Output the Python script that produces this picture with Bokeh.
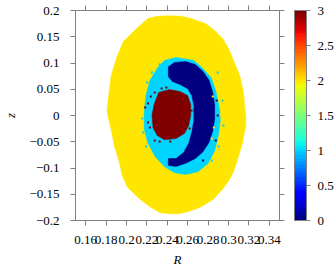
from bokeh.plotting import figure
from bokeh.models import (ColumnDataSource, LinearColorMapper, ColorBar, FixedTicker,
                          LinearAxis, CustomJSTickFormatter, Range1d)
from bokeh.embed import file_html
from bokeh.resources import INLINE

# ---- data: region boundaries (R, z), with their state value ----
yellow_R = [0.242, 0.254, 0.263, 0.278, 0.2865, 0.294, 0.300, 0.304, 0.308, 0.311, 0.314, 0.315,
            0.316, 0.317, 0.317, 0.316, 0.314, 0.313, 0.310, 0.308, 0.3045, 0.301, 0.294, 0.285,
            0.272, 0.261, 0.251, 0.242, 0.233, 0.224, 0.2135, 0.201, 0.196, 0.193, 0.188, 0.185,
            0.181, 0.181, 0.183, 0.185, 0.190, 0.197, 0.210, 0.221, 0.230]
yellow_z = [0.190, 0.189, 0.185, 0.175, 0.162, 0.147, 0.128, 0.109, 0.090, 0.076, 0.051, 0.038,
            0.013, 0.0, -0.019, -0.029, -0.048, -0.057, -0.076, -0.090, -0.109, -0.122, -0.141, -0.160,
            -0.175, -0.183, -0.187, -0.187, -0.185, -0.175, -0.160, -0.137, -0.115, -0.090, -0.057, -0.027,
            0.006, 0.013, 0.046, 0.076, 0.109, 0.141, 0.166, 0.185, 0.189]

cyan_R = [0.237, 0.2486, 0.266, 0.275, 0.283, 0.2875, 0.291, 0.292, 0.290, 0.2865, 0.280, 0.270,
          0.258, 0.247, 0.237, 0.228, 0.221, 0.2173, 0.2173, 0.219, 0.223, 0.230]
cyan_z = [0.105, 0.1105, 0.105, 0.0895, 0.072, 0.0476, 0.015, -0.0095, -0.038, -0.067, -0.0914, -0.107,
          -0.1124, -0.109, -0.097, -0.078, -0.053, -0.025, 0.0057, 0.038, 0.067, 0.0895]

navy_R = [0.241, 0.247, 0.258, 0.2675, 0.275, 0.281, 0.2846, 0.2865, 0.2865, 0.2846, 0.281, 0.275,
          0.2675, 0.258, 0.2486, 0.241,
          0.241, 0.2486, 0.256, 0.261, 0.264, 0.266, 0.266, 0.264, 0.260, 0.2524, 0.245, 0.241]
navy_z = [0.093, 0.101, 0.103, 0.097, 0.084, 0.067, 0.044, 0.019, -0.006, -0.029, -0.051, -0.069,
          -0.082, -0.091, -0.097, -0.095,
          -0.082, -0.082, -0.0705, -0.053, -0.032, -0.0095, 0.019, 0.038, 0.051, 0.059, 0.065, 0.074]

red_R = [0.2315, 0.242, 0.2524, 0.260, 0.263, 0.263, 0.261, 0.257, 0.2486, 0.237, 0.230, 0.226,
         0.225, 0.227]
red_z = [0.044, 0.0495, 0.0457, 0.038, 0.021, 0.0, -0.019, -0.034, -0.044, -0.046, -0.038, -0.023,
         0.0, 0.021]

region_values = [2, 1, 0, 3]

# isolated cells (speckles) near the region borders
speck_R = [0.2183, 0.2211, 0.2239, 0.2277, 0.2344, 0.2391, 0.2230, 0.2211, 0.2277, 0.2325, 0.2429,
           0.2638, 0.2619,
           0.2202, 0.2249, 0.2154, 0.2164, 0.2192, 0.2325, 0.2894, 0.2941, 0.2950, 0.2903, 0.2837,
           0.2884, 0.2894, 0.2875, 0.2751,
           0.2846, 0.2856, 0.2837]
speck_z = [0.0152, 0.0229, 0.0362, 0.0438, 0.0514, 0.0533, -0.0229, -0.0133, -0.0476, -0.0495, -0.0495,
           0.0095, -0.0248,
           0.0629, 0.0819, -0.0057, -0.0324, -0.0590, 0.0971, 0.0819, 0.0286, -0.0190, -0.0590, -0.0857,
           0.0286, 0.0, -0.0476, -0.0857,
           0.0362, -0.0229, -0.0438]
speck_value = [3, 3, 3, 3, 3, 3, 3, 3, 3, 3, 3,
               3, 3,
               1, 1, 1, 1, 1, 1, 1, 1, 1, 1, 1,
               0, 0, 0, 0,
               2, 2, 2]
cell_dR, cell_dz = 0.002, 0.004

x_ticks = [0.16, 0.18, 0.20, 0.22, 0.24, 0.26, 0.28, 0.30, 0.32, 0.34]
x_labels = ["0.16", "0.18", "0.2", "0.22", "0.24", "0.26", "0.28", "0.3", "0.32", "0.34"]
y_ticks = [-0.2, -0.15, -0.1, -0.05, 0.0, 0.05, 0.1, 0.15, 0.2]
y_labels = ["\u22120.2", "\u22120.15", "\u22120.1", "\u22120.05", "0", "0.05", "0.1", "0.15", "0.2"]
cb_ticks = [0, 0.5, 1, 1.5, 2, 2.5, 3]
cb_labels = ["0", "0.5", "1", "1.5", "2", "2.5", "3"]
c_low, c_high = 0, 3


# ---- jet palette ----
def jet(t):
    def interp(pts):
        for (a, va), (b, vb) in zip(pts, pts[1:]):
            if t <= b:
                return va + (vb - va) * (t - a) / (b - a)
        return pts[-1][1]
    r = interp([(0, 0), (0.35, 0), (0.66, 1), (0.89, 1), (1, 0.5)])
    g = interp([(0, 0), (0.125, 0), (0.375, 1), (0.64, 1), (0.91, 0), (1, 0)])
    b = interp([(0, 0.5), (0.11, 1), (0.34, 1), (0.65, 0), (1, 0)])
    return "#%02x%02x%02x" % (round(r * 255), round(g * 255), round(b * 255))


N = 64
palette = [jet(i / (N - 1)) for i in range(N)]
mapper = LinearColorMapper(palette=palette, low=c_low, high=c_high)

FONT = "Liberation Serif"
FS = "13px"
GRAY = "#808080"

LABEL_CODE = """
const i = tv.findIndex(t => Math.abs(t - tick) < 1e-9);
return i >= 0 ? tl[i] : "";
"""


def fmt(ticks, labels):
    return CustomJSTickFormatter(args=dict(tv=ticks, tl=labels), code=LABEL_CODE)


p = figure(width=336, height=272, x_range=Range1d(0.15, 0.35), y_range=Range1d(-0.2, 0.2),
           output_backend="svg", toolbar_location=None,
           min_border_left=68, min_border_right=57, min_border_top=10, min_border_bottom=52)
p.xgrid.visible = False
p.ygrid.visible = False
p.outline_line_color = GRAY
p.background_fill_color = "white"
p.border_fill_color = "white"

src = ColumnDataSource(dict(xs=[yellow_R, cyan_R, navy_R, red_R],
                            ys=[yellow_z, cyan_z, navy_z, red_z],
                            value=region_values))
p.patches("xs", "ys", source=src,
          fill_color={"field": "value", "transform": mapper},
          line_color={"field": "value", "transform": mapper}, line_width=0.5)

spk = ColumnDataSource(dict(x=speck_R, y=speck_z, value=speck_value))
p.rect("x", "y", width=cell_dR, height=cell_dz, source=spk,
       fill_color={"field": "value", "transform": mapper}, line_color=None)


def style_axis(ax, ticks, formatter, standoff):
    ax.ticker = FixedTicker(ticks=ticks, minor_ticks=[])
    ax.formatter = formatter
    ax.major_tick_in = 0
    ax.major_tick_out = 5
    ax.minor_tick_in = 0
    ax.minor_tick_out = 0
    ax.major_tick_line_color = GRAY
    ax.axis_line_color = GRAY
    ax.major_label_text_font = FONT
    ax.major_label_text_font_size = FS
    ax.major_label_text_color = "black"
    ax.major_label_standoff = standoff


xa = p.xaxis[0]
style_axis(xa, x_ticks, fmt(x_ticks, x_labels), 10)
xa.axis_label = "R"
xa.axis_label_text_font = FONT
xa.axis_label_text_font_size = FS
xa.axis_label_text_font_style = "italic"
xa.axis_label_text_color = "black"
xa.axis_label_standoff = 5

ya = p.yaxis[0]
style_axis(ya, y_ticks, fmt(y_ticks, y_labels), 11)
ya.axis_label = "z"
ya.axis_label_text_font = FONT
ya.axis_label_text_font_size = FS
ya.axis_label_text_font_style = "italic"
ya.axis_label_text_color = "black"
ya.axis_label_standoff = 8

top = LinearAxis()
style_axis(top, x_ticks, CustomJSTickFormatter(code="return '';"), 0)
top.major_label_text_font_size = "0px"
p.add_layout(top, "above")

# right mirror axis; its blank (en-space) labels keep the gap before the colour bar
right = LinearAxis()
style_axis(right, y_ticks, CustomJSTickFormatter(code="return '\u2002';"), 0)
right.major_label_text_color = "white"
p.add_layout(right, "right")

cb = ColorBar(color_mapper=mapper, ticker=FixedTicker(ticks=cb_ticks, minor_ticks=[]),
              formatter=fmt(cb_ticks, cb_labels), width=12, height="auto", padding=0,
              location="top_left",
              label_standoff=7, major_tick_in=0, major_tick_out=4,
              major_tick_line_color=GRAY, bar_line_color=GRAY, border_line_color=None,
              background_fill_color=None,
              major_label_text_font=FONT, major_label_text_font_size=FS,
              major_label_text_color="black")
p.add_layout(cb, "right")

open("out.html", "w").write(file_html(p, INLINE))
